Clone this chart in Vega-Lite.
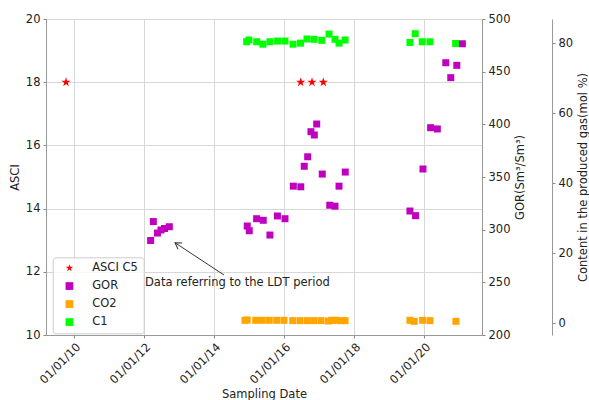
{
  "$schema": "https://vega.github.io/schema/vega-lite/v6.json",
  "width": 436,
  "height": 316,
  "autosize": {"type": "none"},
  "padding": {"left": 46, "top": 19, "right": 107, "bottom": 65},
  "config": {
    "font": "DejaVu Sans",
    "view": {"stroke": "#999", "strokeWidth": 1},
    "axis": {
      "labelFont": "DejaVu Sans", "labelFontSize": 11.5, "labelColor": "#222",
      "titleFont": "DejaVu Sans", "titleFontSize": 11.5, "titleFontWeight": "normal", "titleColor": "#222",
      "domainColor": "#999", "tickColor": "#888", "tickSize": 3, "gridColor": "#d8d8d8", "labelPadding": 3
    }
  },
  "datasets": {
    "asci": [
      {"date": "2009-10-07", "ASCI": 18, "series": "ASCI C5"},
      {"date": "2016-06-21", "ASCI": 18, "series": "ASCI C5"},
      {"date": "2016-10-17", "ASCI": 18, "series": "ASCI C5"},
      {"date": "2017-02-12", "ASCI": 18, "series": "ASCI C5"}
    ],
    "note": [
      {"date": "2012-01-09", "ASCI": 11.64, "label": "Data referring to the LDT period"}
    ],
    "arrow": [
      {"date": "2014-04-12", "ASCI": 11.90, "date2": "2012-11-17", "ASCI2": 12.92}
    ],
    "gor": [
      {"date": "2012-03-08", "GOR": 289.7, "series": "GOR"},
      {"date": "2012-04-05", "GOR": 307.7, "series": "GOR"},
      {"date": "2012-05-18", "GOR": 296.8, "series": "GOR"},
      {"date": "2012-06-24", "GOR": 299.7, "series": "GOR"},
      {"date": "2012-07-31", "GOR": 301.1, "series": "GOR"},
      {"date": "2012-09-19", "GOR": 302.8, "series": "GOR"},
      {"date": "2014-12-11", "GOR": 303.5, "series": "GOR"},
      {"date": "2015-01-01", "GOR": 299.0, "series": "GOR"},
      {"date": "2015-03-19", "GOR": 310.4, "series": "GOR"},
      {"date": "2015-05-27", "GOR": 308.9, "series": "GOR"},
      {"date": "2015-08-05", "GOR": 294.9, "series": "GOR"},
      {"date": "2015-10-22", "GOR": 313.0, "series": "GOR"},
      {"date": "2016-01-09", "GOR": 310.4, "series": "GOR"},
      {"date": "2016-04-05", "GOR": 341.3, "series": "GOR"},
      {"date": "2016-06-22", "GOR": 340.7, "series": "GOR"},
      {"date": "2016-07-28", "GOR": 360.2, "series": "GOR"},
      {"date": "2016-09-02", "GOR": 369.2, "series": "GOR"},
      {"date": "2016-10-06", "GOR": 393.0, "series": "GOR"},
      {"date": "2016-11-10", "GOR": 389.9, "series": "GOR"},
      {"date": "2016-12-05", "GOR": 400.3, "series": "GOR"},
      {"date": "2017-02-01", "GOR": 352.8, "series": "GOR"},
      {"date": "2017-04-20", "GOR": 323.2, "series": "GOR"},
      {"date": "2017-06-14", "GOR": 322.3, "series": "GOR"},
      {"date": "2017-07-26", "GOR": 341.3, "series": "GOR"},
      {"date": "2017-09-29", "GOR": 354.7, "series": "GOR"},
      {"date": "2019-08-05", "GOR": 317.7, "series": "GOR"},
      {"date": "2019-10-03", "GOR": 313.3, "series": "GOR"},
      {"date": "2019-12-19", "GOR": 357.6, "series": "GOR"},
      {"date": "2020-03-08", "GOR": 396.8, "series": "GOR"},
      {"date": "2020-05-17", "GOR": 395.6, "series": "GOR"},
      {"date": "2020-08-13", "GOR": 458.5, "series": "GOR"},
      {"date": "2020-10-04", "GOR": 444.3, "series": "GOR"},
      {"date": "2020-12-06", "GOR": 456.0, "series": "GOR"},
      {"date": "2021-02-02", "GOR": 476.5, "series": "GOR"}
    ],
    "gas": [
      {"date": "2014-11-17", "content": 0.9, "series": "CO2"},
      {"date": "2014-12-11", "content": 1.0, "series": "CO2"},
      {"date": "2015-03-09", "content": 0.9, "series": "CO2"},
      {"date": "2015-05-17", "content": 0.9, "series": "CO2"},
      {"date": "2015-07-29", "content": 0.9, "series": "CO2"},
      {"date": "2015-10-14", "content": 0.9, "series": "CO2"},
      {"date": "2015-12-29", "content": 0.9, "series": "CO2"},
      {"date": "2016-03-30", "content": 0.8, "series": "CO2"},
      {"date": "2016-06-14", "content": 0.8, "series": "CO2"},
      {"date": "2016-08-29", "content": 0.8, "series": "CO2"},
      {"date": "2016-11-07", "content": 0.8, "series": "CO2"},
      {"date": "2017-01-19", "content": 0.8, "series": "CO2"},
      {"date": "2017-04-06", "content": 0.7, "series": "CO2"},
      {"date": "2017-05-11", "content": 0.9, "series": "CO2"},
      {"date": "2017-06-25", "content": 0.9, "series": "CO2"},
      {"date": "2017-08-16", "content": 0.8, "series": "CO2"},
      {"date": "2017-09-27", "content": 0.8, "series": "CO2"},
      {"date": "2019-08-05", "content": 0.9, "series": "CO2"},
      {"date": "2019-09-19", "content": 0.6, "series": "CO2"},
      {"date": "2019-12-15", "content": 0.9, "series": "CO2"},
      {"date": "2020-03-01", "content": 0.8, "series": "CO2"},
      {"date": "2020-11-27", "content": 0.6, "series": "CO2"},
      {"date": "2014-12-05", "content": 80.5, "series": "C1"},
      {"date": "2014-12-29", "content": 81.0, "series": "C1"},
      {"date": "2015-03-20", "content": 80.5, "series": "C1"},
      {"date": "2015-05-24", "content": 79.8, "series": "C1"},
      {"date": "2015-08-05", "content": 80.5, "series": "C1"},
      {"date": "2015-10-24", "content": 80.7, "series": "C1"},
      {"date": "2016-01-09", "content": 80.7, "series": "C1"},
      {"date": "2016-04-02", "content": 79.8, "series": "C1"},
      {"date": "2016-06-19", "content": 80.1, "series": "C1"},
      {"date": "2016-08-26", "content": 81.3, "series": "C1"},
      {"date": "2016-11-07", "content": 81.2, "series": "C1"},
      {"date": "2017-01-27", "content": 80.9, "series": "C1"},
      {"date": "2017-04-13", "content": 82.7, "series": "C1"},
      {"date": "2017-06-14", "content": 81.2, "series": "C1"},
      {"date": "2017-07-26", "content": 80.1, "series": "C1"},
      {"date": "2017-09-27", "content": 81.0, "series": "C1"},
      {"date": "2019-08-05", "content": 80.3, "series": "C1"},
      {"date": "2019-09-29", "content": 82.8, "series": "C1"},
      {"date": "2019-12-11", "content": 80.5, "series": "C1"},
      {"date": "2020-03-01", "content": 80.5, "series": "C1"},
      {"date": "2020-11-24", "content": 80.0, "series": "C1"}
    ]
  },
  "layer": [
    {
      "data": {"name": "asci"},
      "mark": {"type": "point", "filled": true, "opacity": 1, "size": 95},
      "encoding": {
        "x": {
          "field": "date", "type": "temporal",
          "scale": {"type": "utc", "domain": [{"year": 2009, "month": 3, "date": 12, "utc": true}, {"year": 2021, "month": 8, "date": 26, "utc": true}]},
          "axis": {
            "title": "Sampling Date", "titleX": 218, "titleY": 59, "titleBaseline": "middle",
            "values": [
              {"year": 2010, "month": 1, "date": 1, "utc": true},
              {"year": 2012, "month": 1, "date": 1, "utc": true},
              {"year": 2014, "month": 1, "date": 1, "utc": true},
              {"year": 2016, "month": 1, "date": 1, "utc": true},
              {"year": 2018, "month": 1, "date": 1, "utc": true},
              {"year": 2020, "month": 1, "date": 1, "utc": true}
            ],
            "format": "%m/%d/%y", "labelAngle": -45, "labelAlign": "right", "labelBaseline": "top",
            "grid": true, "labelFlush": false, "labelOverlap": false
          }
        },
        "y": {
          "field": "ASCI", "type": "quantitative",
          "scale": {"domain": [10, 20], "nice": false, "zero": false},
          "axis": {"orient": "left", "title": "ASCI", "values": [10, 12, 14, 16, 18, 20], "grid": true,
                   "titleX": -31, "titleY": 158, "titleBaseline": "middle", "titleAngle": 270}
        },
        "color": {"field": "series", "type": "nominal",
          "scale": {"domain": ["ASCI C5", "GOR", "CO2", "C1"], "range": ["#ff0000", "#bf00bf", "#ffa500", "#00ff00"]},
          "legend": {"title": null, "orient": "none", "legendX": 6.7, "legendY": 238.3, "padding": 5,
                     "strokeColor": "#ccc", "fillColor": "rgba(255,255,255,0.85)", "cornerRadius": 3,
                     "labelFontSize": 11.5, "labelColor": "#222", "labelFont": "DejaVu Sans",
                     "symbolSize": 60, "symbolOffset": 6, "labelOffset": 17, "rowPadding": 5}},
        "shape": {"field": "series", "type": "nominal",
          "scale": {"domain": ["ASCI C5", "GOR", "CO2", "C1"],
                    "range": ["M0,-1L0.2245,-0.309L0.951,-0.309L0.3633,0.118L0.5878,0.809L0,0.382L-0.5878,0.809L-0.3633,0.118L-0.951,-0.309L-0.2245,-0.309Z", "square", "square", "square"]},
          "legend": {"title": null, "orient": "none", "legendX": 6.7, "legendY": 238.3, "padding": 5,
                     "strokeColor": "#ccc", "fillColor": "rgba(255,255,255,0.85)", "cornerRadius": 3,
                     "labelFontSize": 11.5, "labelColor": "#222", "labelFont": "DejaVu Sans",
                     "symbolSize": 60, "symbolOffset": 6, "labelOffset": 17, "rowPadding": 5}}
      }
    },
    {
      "data": {"name": "gor"},
      "mark": {"type": "point", "filled": true, "opacity": 1, "size": 49},
      "encoding": {
        "x": {"field": "date", "type": "temporal"},
        "y": {
          "field": "GOR", "type": "quantitative",
          "scale": {"domain": [200, 500], "nice": false, "zero": false},
          "axis": {"orient": "right", "title": "GOR(Sm³/Sm³)", "values": [200, 250, 300, 350, 400, 450, 500], "grid": false,
                   "titleX": 38, "titleY": 158, "titleBaseline": "middle", "titleAngle": 270}
        },
        "color": {"field": "series", "type": "nominal"},
        "shape": {"field": "series", "type": "nominal"}
      }
    },
    {
      "data": {"name": "gas"},
      "mark": {"type": "point", "filled": true, "opacity": 1, "size": 49},
      "encoding": {
        "x": {"field": "date", "type": "temporal"},
        "y": {
          "field": "content", "type": "quantitative",
          "scale": {"domain": [-3.3, 87], "nice": false, "zero": false},
          "axis": {"orient": "right", "offset": 70, "title": "Content in the produced gas(mol %)", "values": [0, 20, 40, 60, 80], "grid": false,
                   "titleX": 31, "titleY": 158, "titleBaseline": "middle", "titleAngle": 270}
        },
        "color": {"field": "series", "type": "nominal"},
        "shape": {"field": "series", "type": "nominal"}
      }
    },
    {
      "data": {"name": "note"},
      "mark": {"type": "text", "align": "left", "baseline": "middle", "fontSize": 11.5, "color": "#222", "font": "DejaVu Sans"},
      "encoding": {
        "x": {"field": "date", "type": "temporal"},
        "y": {"field": "ASCI", "type": "quantitative", "scale": {"domain": [10, 20], "nice": false, "zero": false}, "axis": null},
        "text": {"field": "label"}
      }
    },
    {
      "data": {"name": "arrow"},
      "mark": {"type": "rule", "color": "#333", "strokeWidth": 1},
      "encoding": {
        "x": {"field": "date", "type": "temporal"},
        "x2": {"field": "date2"},
        "y": {"field": "ASCI", "type": "quantitative", "scale": {"domain": [10, 20], "nice": false, "zero": false}, "axis": null},
        "y2": {"field": "ASCI2"}
      }
    },
    {
      "data": {"name": "arrow"},
      "mark": {"type": "point", "shape": "M -1 -0.6 L 0 0 L -1 0.6", "filled": false, "stroke": "#333", "strokeWidth": 1, "opacity": 1, "size": 150, "angle": 213.4},
      "encoding": {
        "x": {"field": "date2", "type": "temporal"},
        "y": {"field": "ASCI2", "type": "quantitative", "scale": {"domain": [10, 20], "nice": false, "zero": false}, "axis": null}
      }
    }
  ],
  "resolve": {"scale": {"y": "independent"}}
}
